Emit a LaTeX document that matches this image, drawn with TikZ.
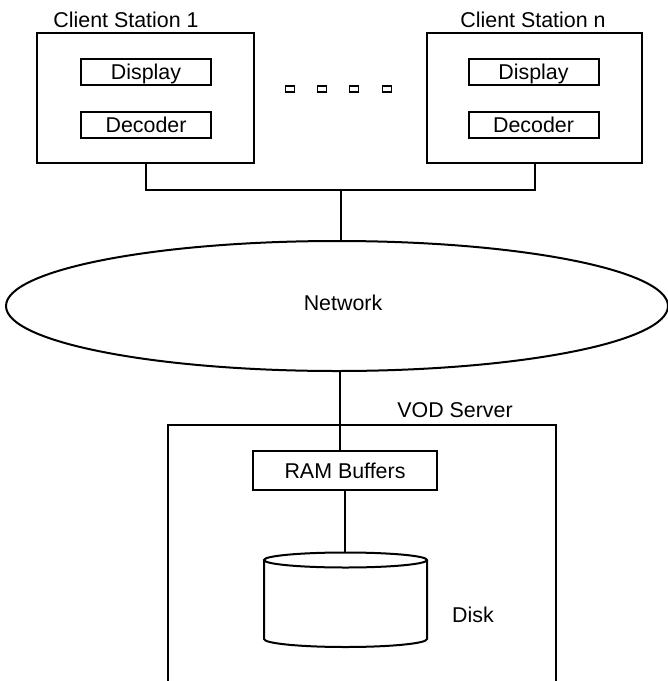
\documentclass[tikz,border=0pt]{standalone}
\usepackage{fontspec}
\setmainfont{Liberation Sans}
\usetikzlibrary{shapes.geometric}
\begin{document}
\begin{tikzpicture}[x=0.5pt,y=-0.5pt,
  line width=1pt,
  every node/.style={font=\fontsize{10.7pt}{12pt}\selectfont},
  station/.style={draw,rectangle,inner sep=0pt,minimum height=65pt},
  unitbox/.style={draw,rectangle,inner sep=0pt,minimum width=65pt,minimum height=13pt,
    text height=7.7pt,text depth=0pt},
  dotbox/.style={draw,rectangle,inner sep=0pt,minimum width=4.5pt,minimum height=3pt,line width=0.9pt},
  caption/.style={anchor=base,inner sep=0pt}]
\useasboundingbox (0,0) rectangle (668,681);

% client stations
\node[station,minimum width=108.5pt] (cs1) at (145.5,98) {};
\node[unitbox] (disp1) at (146,72) {Display};
\node[unitbox] (dec1) at (146,124.5) {Decoder};
\node[caption] (cs1lbl) at (126,27) {Client Station 1};

\node[station,minimum width=107.5pt] (csn) at (534.5,98) {};
\node[unitbox] (dispn) at (533.5,72) {Display};
\node[unitbox] (decn) at (533.5,124.5) {Decoder};
\node[caption] (csnlbl) at (533,27) {Client Station n};

% ellipsis between the stations
\node[dotbox] (d1) at (290,89) {};
\node[dotbox] (d2) at (322,89) {};
\node[dotbox] (d3) at (354,89) {};
\node[dotbox] (d4) at (387,89) {};

% network
\node[draw,ellipse,inner sep=0pt,minimum width=331pt,minimum height=65pt] (net) at (337,306) {};
\node[caption] (netlbl) at (343,310) {Network};

% stations joined to the network
\coordinate (hub) at (341,190);
\draw (cs1.south) |- (hub) -| (csn.south);
\draw (hub) -- (hub |- net.north);

% VOD server (box runs off the bottom edge)
\coordinate (srvbl) at (168,681);
\coordinate (srvtl) at (168,425);
\coordinate (srvtr) at (556,425);
\coordinate (srvbr) at (556,681);
\draw (srvbl) -- (srvtl) -- (srvtr) -- (srvbr);
\node[caption] (srvlbl) at (455,417) {VOD Server};

\node[draw,rectangle,inner sep=0pt,minimum width=92pt,minimum height=19.5pt,
  text height=7.7pt,text depth=0pt] (ram) at (345,470.5) {RAM Buffers};
\draw (net.south) ++(3,0) coordinate (netdown) -- (netdown |- ram.north);

% disk
\coordinate (disktop) at (345.5,552.5);
\draw (345.5,560) ellipse [x radius=81.5, y radius=7.5];
\draw (264,560) -- (264,639) arc[start angle=180, end angle=0, x radius=81.5, y radius=8] -- (427,560);
\draw (ram.south) -- (ram.south |- disktop);
\node[caption] (disklbl) at (473,622) {Disk};
\end{tikzpicture}
\end{document}
